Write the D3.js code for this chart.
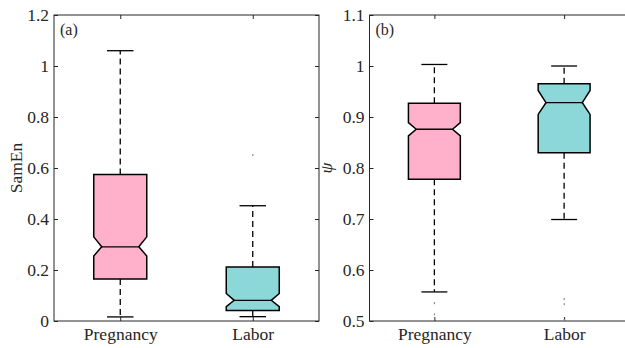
<!DOCTYPE html>
<html lang="en">
  <head>
    <meta charset="UTF-8" />
    <title>SamEn and psi boxplots</title>
    <script src="https://d3js.org/d3.v7.min.js"></script>
    <style>
      body { margin: 0; background: #fff; }
      svg { display: block; }
      .axis line { stroke: #262626; }
    </style>
  </head>
  <body>
    <svg id="chart" width="625" height="348"></svg>
    <script>
      // data: [lower whisker, Q1, notch low, median, notch high, Q3, upper whisker]
      const categories = ["Pregnancy", "Labor"];
      const colors = ["#ffb1cb", "#8cd8d8"];

      const samEnPregnancy = [0.016, 0.165, 0.255, 0.291, 0.33, 0.575, 1.06];
      const samEnLabor = [0.017, 0.041, 0.056, 0.081, 0.108, 0.212, 0.452];
      const samEnOutliersPregnancy = [];
      const samEnOutliersLabor = [0.651];
      const samEnTicks = [0, 0.2, 0.4, 0.6, 0.8, 1, 1.2];

      const psiPregnancy = [0.557, 0.778, 0.863, 0.876, 0.889, 0.927, 1.003];
      const psiLabor = [0.699, 0.83, 0.905, 0.928, 0.952, 0.965, 1.0];
      const psiOutliersPregnancy = [0.535, 0.513];
      const psiOutliersLabor = [0.543, 0.533, 0.502];
      const psiTicks = [0.5, 0.6, 0.7, 0.8, 0.9, 1, 1.1];

      const FONT = "'Liberation Serif', 'Times New Roman', Times, serif";
      const svg = d3.select("#chart");

      function drawPanel(opt) {
        const x = d3.scaleLinear().domain([0.5, 2.5]).range([opt.left, opt.right]);
        const y = d3.scaleLinear().domain(opt.yDomain).range([opt.bottom, opt.top]);
        const g = svg.append("g");

        // frame
        g.append("rect")
          .attr("x", opt.left).attr("y", opt.top)
          .attr("width", opt.right - opt.left).attr("height", opt.bottom - opt.top)
          .attr("fill", "none").attr("stroke", "#262626").attr("stroke-width", 1);

        const styleAxis = s => {
          s.select(".domain").remove();
          s.attr("font-family", null).attr("font-size", null);
          s.selectAll("text").style("font-family", FONT).style("font-size", "17.5px").style("fill", "#262626");
        };

        // axes, ticks pointing inward
        const yLeft = d3.axisLeft(y).tickValues(opt.ticks).tickFormat(d => String(d))
          .tickSizeInner(-4).tickSizeOuter(0).tickPadding(5);
        g.append("g").attr("class", "axis").attr("transform", `translate(${opt.left},0)`)
          .call(yLeft).call(styleAxis);

        const yRight = d3.axisRight(y).tickValues(opt.ticks).tickFormat("")
          .tickSizeInner(-4).tickSizeOuter(0);
        g.append("g").attr("class", "axis").attr("transform", `translate(${opt.right},0)`)
          .call(yRight).call(styleAxis);

        const xBottom = d3.axisBottom(x).tickValues([1, 2]).tickFormat((d, i) => categories[i])
          .tickSizeInner(-4).tickSizeOuter(0).tickPadding(7);
        g.append("g").attr("class", "axis").attr("transform", `translate(0,${opt.bottom})`)
          .call(xBottom).call(styleAxis);

        const xTop = d3.axisTop(x).tickValues([1, 2]).tickFormat("")
          .tickSizeInner(-4).tickSizeOuter(0);
        g.append("g").attr("class", "axis").attr("transform", `translate(0,${opt.top})`)
          .call(xTop).call(styleAxis);

        // boxes
        opt.series.forEach((s, i) => {
          const cx = x(i + 1);
          const hw = (x(1.2) - x(1)); // half box width
          const l = cx - hw, r = cx + hw, ind = hw * 0.3;
          const [wl, q1, nl, med, nh, q3, wh] = s;

          // whiskers
          g.append("line").attr("x1", cx).attr("x2", cx).attr("y1", y(q3)).attr("y2", y(wh))
            .attr("stroke", "#000").attr("stroke-width", 1.3).attr("stroke-dasharray", "6,4");
          g.append("line").attr("x1", cx).attr("x2", cx).attr("y1", y(q1)).attr("y2", y(wl))
            .attr("stroke", "#000").attr("stroke-width", 1.3).attr("stroke-dasharray", "6,4");
          [wl, wh].forEach(v => {
            g.append("line").attr("x1", cx - hw / 2).attr("x2", cx + hw / 2)
              .attr("y1", y(v)).attr("y2", y(v))
              .attr("stroke", "#000").attr("stroke-width", 1.3);
          });

          const pts = [
            [l, y(q3)], [r, y(q3)], [r, y(nh)], [r - ind, y(med)], [r, y(nl)], [r, y(q1)],
            [l, y(q1)], [l, y(nl)], [l + ind, y(med)], [l, y(nh)]
          ];
          g.append("path").attr("d", d3.line()(pts) + "Z")
            .attr("fill", colors[i]).attr("stroke", "#000").attr("stroke-width", 1.5)
            .attr("stroke-linejoin", "miter");
          g.append("line").attr("x1", l + ind).attr("x2", r - ind)
            .attr("y1", y(med)).attr("y2", y(med))
            .attr("stroke", "#000").attr("stroke-width", 1.3);

          // outliers (tiny markers)
          opt.outliers[i].forEach(v => {
            g.append("rect").attr("x", cx - 0.5).attr("y", y(v) - 1)
              .attr("width", 1.2).attr("height", 2).attr("fill", "#888");
          });
        });

        // panel tag
        g.append("text").attr("x", opt.left + 6).attr("y", opt.top + 20)
          .style("font-family", FONT).style("font-size", "16px").style("fill", "#262626")
          .text(opt.tag);

        // y label
        const lab = g.append("text")
          .attr("transform", `translate(${opt.labelX},${(opt.top + opt.bottom) / 2}) rotate(-90)`)
          .attr("text-anchor", "middle")
          .style("font-family", FONT).style("font-size", "17.5px").style("fill", "#262626");
        if (opt.italic) lab.style("font-style", "italic");
        lab.text(opt.label);
      }

      drawPanel({
        left: 54, right: 319, top: 15, bottom: 321,
        yDomain: [0, 1.2], ticks: samEnTicks,
        series: [samEnPregnancy, samEnLabor],
        outliers: [samEnOutliersPregnancy, samEnOutliersLabor],
        tag: "(a)", label: "SamEn", labelX: 22, italic: false
      });

      drawPanel({
        left: 369.5, right: 629, top: 15, bottom: 321,
        yDomain: [0.5, 1.1], ticks: psiTicks,
        series: [psiPregnancy, psiLabor],
        outliers: [psiOutliersPregnancy, psiOutliersLabor],
        tag: "(b)", label: "ψ", labelX: 332, italic: true
      });
    </script>
  </body>
</html>
